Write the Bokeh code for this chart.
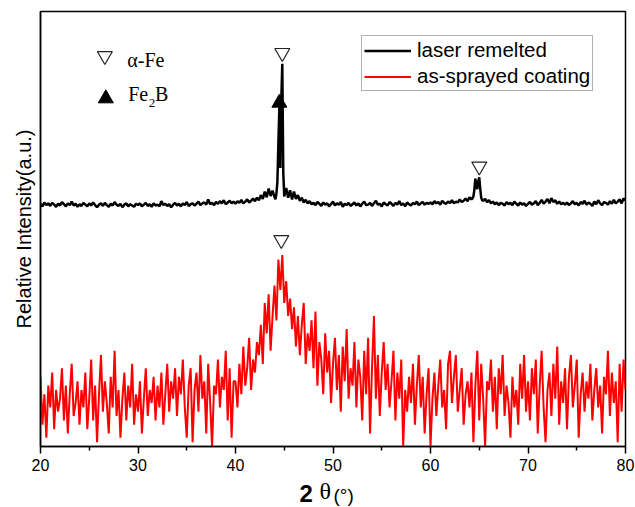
import numpy as np
from bokeh.plotting import figure
from bokeh.layouts import column
from bokeh.models import Range1d, FixedTicker, Legend, LegendItem, Label
from bokeh.core.properties import value
from bokeh.embed import file_html
from bokeh.resources import INLINE

# ---------------- data ----------------
two_theta_start = 20.0
two_theta_step = 0.2
x_ticks = [20, 30, 40, 50, 60, 70, 80]

# laser remelted (black), one value every 0.2 deg from 20 to 80
laser_remelted = [
    55.8, 55.2, 56.1, 55.5, 55.9, 55.3, 56.0, 55.6, 55.1, 55.8,
    55.4, 56.2, 55.7, 55.2, 55.9, 55.5, 56.3, 55.4, 55.8, 55.1,
    55.7, 55.3, 56.0, 55.6, 55.2, 55.9, 55.4, 56.1, 55.5, 55.0,
    55.6, 55.9, 55.3, 56.0, 55.5, 55.1, 55.8, 55.4, 56.2, 55.6,
    55.3, 55.8, 55.0, 55.6, 55.9, 55.2, 55.7, 55.4, 55.1, 55.8,
    55.5, 55.9, 55.2, 55.6, 56.0, 55.3, 55.7, 55.1, 55.9, 55.4,
    55.6, 55.2, 56.4, 55.5, 55.8, 55.3, 55.7, 55.0, 55.6, 56.0,
    55.4, 55.8, 55.2, 55.9, 55.5, 56.2, 55.3, 55.7, 55.9, 55.4,
    55.8, 56.3, 55.5, 55.9, 56.1, 55.6, 56.8, 55.7, 56.0, 55.5,
    56.2, 55.8, 56.4, 55.9, 56.6, 55.7, 56.1, 56.5, 55.9, 56.3,
    55.8, 56.4, 56.0, 56.7, 55.9, 56.3, 56.8, 56.1, 56.5, 57.0,
    56.4, 57.2, 56.6, 57.8, 56.9, 58.6, 57.3, 59.3, 57.6, 58.8,
    57.4, 58.2, 70.0, 64.0, 88.0, 57.5, 59.4, 57.2, 58.9, 56.8,
    58.6, 56.9, 57.8, 56.5, 57.2, 56.1, 56.7, 55.9, 56.4, 55.7,
    56.0, 55.5, 56.2, 55.8, 55.3, 56.1, 55.6, 55.9, 55.2, 55.7,
    56.3, 55.4, 55.9, 55.6, 56.2, 55.1, 55.8, 55.5, 56.0, 55.3,
    55.7, 56.1, 55.4, 55.9, 55.2, 55.8, 56.3, 55.5, 55.6, 56.0,
    55.3, 55.9, 56.5, 55.6, 55.8, 55.2, 56.1, 55.7, 55.4, 56.2,
    55.8, 55.3, 56.0, 55.6, 56.4, 55.5, 55.9, 55.2, 56.1, 55.7,
    55.4, 56.0, 55.7, 56.3, 55.5, 55.9, 56.2, 55.6, 56.0, 55.8,
    56.1, 55.7, 56.4, 55.9, 56.2, 55.6, 56.5, 56.0, 55.8, 56.3,
    56.0, 56.6, 55.9, 56.3, 56.1, 56.8, 56.2, 56.5, 57.0, 56.4,
    57.3, 56.8, 57.5, 61.6, 59.2, 61.9, 57.2, 56.5, 56.9, 56.2,
    56.6, 55.9, 56.3, 55.7, 56.1, 55.5, 56.0, 55.8, 55.4, 56.2,
    55.7, 56.0, 55.5, 56.3, 55.8, 55.4, 56.1, 55.6, 55.9, 55.3,
    55.8, 56.2, 55.6, 55.9, 56.4, 55.5, 56.0, 56.7, 55.8, 56.3,
    56.9, 55.9, 57.1, 56.2, 56.6, 55.8, 56.3, 55.7, 56.0, 55.6,
    56.1, 55.5, 55.9, 56.4, 55.7, 56.0, 55.4, 56.2, 55.8, 56.5,
    55.6, 56.1, 55.8, 55.3, 56.3, 55.7, 56.6, 55.9, 55.5, 56.2,
    56.0, 55.6, 56.4, 55.8, 56.7, 55.9, 56.3, 56.8, 55.9, 57.0,
    56.6,
]
# extra readings between grid steps around the sharp peaks
laser_peak_two_theta = [44.1, 44.3, 44.5, 44.7, 44.9, 64.3, 64.5, 64.7, 64.9, 65.1, 65.3]
laser_peak_intensity = [56.8, 61.0, 78.0, 80.0, 63.0, 57.0, 59.0, 59.8, 61.0, 59.3, 56.6]

# as-sprayed coating (red), one value every 0.2 deg from 20 to 80
as_sprayed = [
    16, 5, 12, 2, 14, 9, 17, 4, 13, 8,
    11, 18, 6, 14, 3, 12, 19, 7, 10, 15,
    5, 13, 9, 17, 4, 11, 20, 6, 14, 1,
    12, 21, 8, 15, 10, 3, 16, 9, 22, 7,
    13, 2, 11, 17, 6, 14, 9, 19, 5, 12,
    8, 15, 3, 11, 18, 7, 13, 10, 16, 6,
    14, 9, 17, 5, 12, 19, 8, 15, 11, 18,
    7, 16, 12, 20, 9, 2, 14, 18, 1, 13,
    17, 8, 21, 11, 15, 3, 19, 10, 0, 14,
    12, 20, 9, 16, 13, 22, 6, 18, 2, 15,
    15, 9, 19, 12, 23, 14, 18, 25, 13, 20,
    17, 24, 21, 28, 19, 33, 26, 35, 22, 30,
    37, 29, 43, 36, 44, 33, 38, 30, 34, 27,
    32, 23, 30, 21, 28, 33, 19, 26, 22, 29,
    18, 31, 14, 24, 20, 12, 26, 17, 22, 10,
    19, 25, 13, 21, 8, 23, 15, 27, 11, 18,
    14, 24, 9, 20, 16, 6, 22, 12, 25, 3,
    18, 30, 11, 21, 7, 17, 24, 13, 19, 9,
    15, 22, 6, 17, 11, 20, 0, 13, 8, 16,
    10, 19, 5, 14, 21, 9, 16, 3, 12, 18,
    0, 11, 17, 7, 14, 20, 9, 13, 4, 19,
    22, 10, 16, 21, 8, 13, 18, 5, 12, 15,
    9, 17, 1, 14, 22, 6, 19, 11, 0, 15,
    13, 20, 8, 16, 4, 18, 12, 21, 7, 14,
    10, 2, 16, 9, 13, 5, 19, 11, 21, 8,
    15, 6, 18, 12, 20, 3, 14, 22, 9, 1,
    13, 17, 7, 19, 11, 23, 5, 15, 10, 18,
    4, 16, 21, 9, 14, 20, 2, 12, 17, 8,
    15, 11, 19, 6, 13, 18, 9, 14, 3, 16,
    12, 22, 7, 17, 10, 15, 1, 19, 8, 20,
    13,
]

# phase identification (peak positions, 2theta)
alpha_fe_laser = [44.8, 65.0]
fe2b_laser = [44.5]
alpha_fe_sprayed = [44.7]

# ---------------- build ----------------
grid = np.round(two_theta_start + two_theta_step * np.arange(len(laser_remelted)), 2)
lr_x = np.concatenate([grid, laser_peak_two_theta])
lr_y = np.concatenate([laser_remelted, laser_peak_intensity])
order = np.argsort(lr_x)
lr_x, lr_y = lr_x[order], lr_y[order]
sp_x = np.round(two_theta_start + two_theta_step * np.arange(len(as_sprayed)), 2)
sp_y = np.array(as_sprayed, dtype=float)

def at(xs, ys, pos):
    return float(ys[np.argmin(np.abs(xs - pos))])

SANS = "Liberation Sans"
SERIF = "Liberation Serif"

p = figure(width=635, height=477, output_backend="svg", toolbar_location=None,
           title=None, x_range=Range1d(20, 80), y_range=Range1d(0, 100),
           min_border_left=40, min_border_right=10, min_border_top=11, min_border_bottom=31)
p.background_fill_color = "white"
p.border_fill_color = "white"
p.outline_line_color = "black"
p.outline_line_width = 1.5
p.xgrid.visible = False
p.ygrid.visible = False

minor = [(a + b) / 2 for a, b in zip(x_ticks[:-1], x_ticks[1:])]
p.xaxis.ticker = FixedTicker(ticks=x_ticks, minor_ticks=minor)
p.xaxis.major_tick_out = 7
p.xaxis.major_tick_in = 0
p.xaxis.minor_tick_out = 4
p.xaxis.minor_tick_in = 0
p.xaxis.major_tick_line_width = 1.5
p.xaxis.minor_tick_line_width = 1.5
p.xaxis.axis_line_width = 1.5
p.xaxis.major_label_text_font = SANS
p.xaxis.major_label_text_font_size = "16px"
p.xaxis.major_label_text_color = "black"
p.xaxis.major_label_standoff = 5

p.yaxis.ticker = FixedTicker(ticks=[])
p.yaxis.major_tick_out = 0
p.yaxis.minor_tick_out = 0
p.yaxis.axis_line_width = 1.5
p.yaxis.axis_label = "Relative Intensity(a.u.)"
p.yaxis.axis_label_text_font = SANS
p.yaxis.axis_label_text_font_size = "20px"
p.yaxis.axis_label_text_font_style = "normal"
p.yaxis.axis_label_text_color = "black"
p.yaxis.axis_label_standoff = 6

sp_line = p.line(sp_x, sp_y, line_color="#ff0000", line_width=2.0)
lr_line = p.line(lr_x, lr_y, line_color="black", line_width=2.5)
lr_dot = p.scatter(x=[], y=[], marker="square", size=5, color="black")
sp_dot = p.scatter(x=[], y=[], marker="square", size=5, color="#ff0000")

# phase markers above the peaks
afx = alpha_fe_laser + alpha_fe_sprayed
afy = [at(lr_x, lr_y, v) + 2.5 for v in alpha_fe_laser] + [at(sp_x, sp_y, v) + 3.5 for v in alpha_fe_sprayed]
p.scatter(afx, afy, marker="inverted_triangle", size=15, fill_color=None,
          line_color="#222222", line_width=1.2)
p.scatter(fe2b_laser, [at(lr_x, lr_y, v) + 1 for v in fe2b_laser], marker="triangle",
          size=15, fill_color="black", line_color="black")

# key for the phase markers
p.scatter([26.6], [89.8], marker="inverted_triangle", size=15, fill_color=None,
          line_color="#222222", line_width=1.2)
p.scatter([26.7], [80.0], marker="triangle", size=15, fill_color="black", line_color="black")
p.add_layout(Label(x=28.9, y=88.9, text="α-Fe", text_font=SERIF, text_font_size="20px",
                   text_baseline="middle", text_color="black"))
p.add_layout(Label(x=29.0, y=81.1, text="Fe", text_font=SERIF, text_font_size="20px",
                   text_baseline="middle", text_color="black"))
p.add_layout(Label(x=31.1, y=79.0, text="2", text_font=SERIF, text_font_size="13px",
                   text_baseline="middle", text_color="black"))
p.add_layout(Label(x=31.75, y=81.1, text="B", text_font=SERIF, text_font_size="20px",
                   text_baseline="middle", text_color="black"))

legend = Legend(items=[LegendItem(label="laser remelted", renderers=[lr_line, lr_dot]),
                       LegendItem(label="as-sprayed coating", renderers=[sp_line, sp_dot])],
                location=(321, 355), label_text_font=SANS, label_text_font_size="20.5px",
                label_text_color="black", glyph_width=47, glyph_height=23, label_height=23,
                label_standoff=6, padding=2, spacing=2, margin=0,
                border_line_color="#666666", border_line_width=1,
                background_fill_color="white", background_fill_alpha=1.0)
p.add_layout(legend)

# x axis title strip: bold "2", serif theta, "(°)"
p2 = figure(width=635, height=30, output_backend="svg", toolbar_location=None, title=None,
            x_range=p.x_range, y_range=Range1d(0, 30), x_axis_type=None, y_axis_type=None,
            min_border=0, min_border_left=40, min_border_right=10,
            min_border_top=0, min_border_bottom=0)
p2.outline_line_color = None
p2.background_fill_color = "white"
p2.border_fill_color = "white"
p2.text(x=[46.56], y=[14.3], text=["2"], text_font=value(SANS), text_font_size="24px",
        text_font_style="bold", text_baseline="middle", text_color="black")
p2.text(x=[48.62], y=[16.1], text=["θ"], text_font=value(SERIF), text_font_size="24px",
        text_baseline="middle", text_color="black")
p2.text(x=[50.05], y=[11.6], text=["(°)"], text_font=value(SANS), text_font_size="19px",
        text_baseline="middle", text_color="black")

layout = column(p, p2, spacing=0)
open("out.html", "w").write(file_html(layout, INLINE))
